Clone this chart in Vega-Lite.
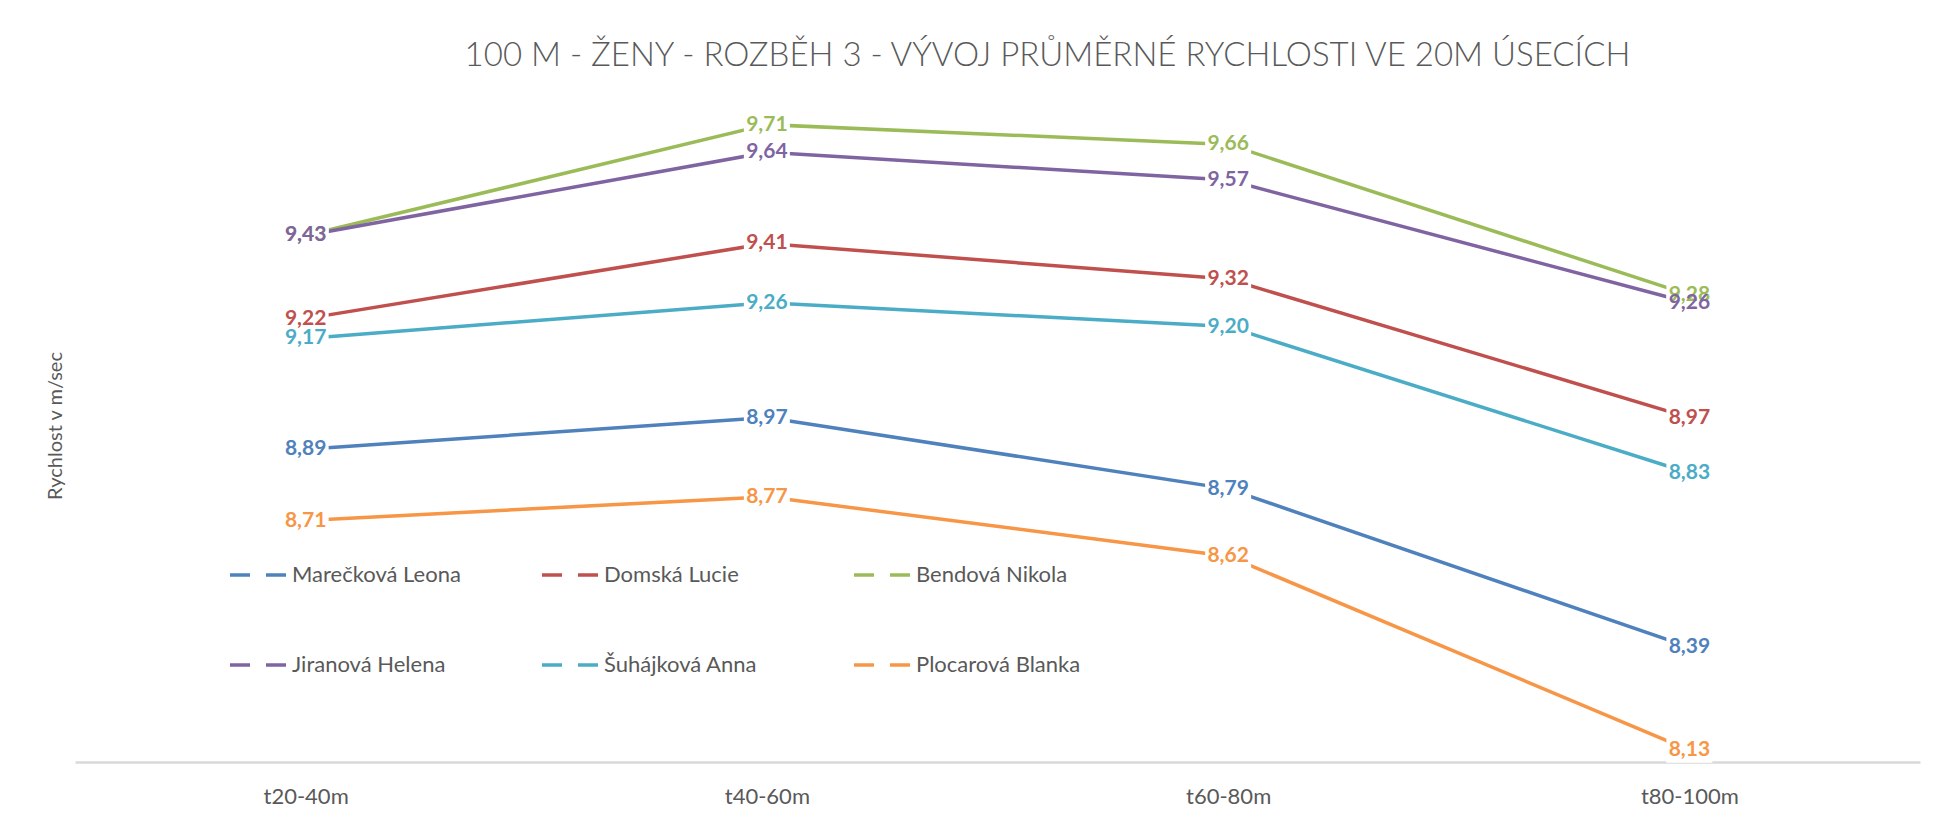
{
  "$schema": "https://vega.github.io/schema/vega-lite/v6.json",
  "width": 1845,
  "height": 673,
  "autosize": {"type": "none"},
  "padding": {"left": 75, "top": 89, "right": 15, "bottom": 57},
  "background": "white",
  "config": {
    "view": {"stroke": null},
    "font": "Lato",
    "locale": {"number": {"decimal": ",", "thousands": " ", "grouping": [3], "currency": ["", " Kč"]}}
  },
  "title": {
    "text": "100 M - ŽENY - ROZBĚH 3 - VÝVOJ PRŮMĚRNÉ RYCHLOSTI VE 20M ÚSECÍCH",
    "font": "Lato",
    "fontSize": 33,
    "fontWeight": 300,
    "color": "#595959",
    "anchor": "middle",
    "dx": 50,
    "dy": 36,
    "offset": 26,
    "baseline": "alphabetic"
  },
  "data": {
    "values": [
      {"zavodnice": "Marečková Leona", "usek": "t20-40m", "rychlost": 8.89},
      {"zavodnice": "Marečková Leona", "usek": "t40-60m", "rychlost": 8.97},
      {"zavodnice": "Marečková Leona", "usek": "t60-80m", "rychlost": 8.79},
      {"zavodnice": "Marečková Leona", "usek": "t80-100m", "rychlost": 8.39},
      {"zavodnice": "Domská Lucie", "usek": "t20-40m", "rychlost": 9.22},
      {"zavodnice": "Domská Lucie", "usek": "t40-60m", "rychlost": 9.41},
      {"zavodnice": "Domská Lucie", "usek": "t60-80m", "rychlost": 9.32},
      {"zavodnice": "Domská Lucie", "usek": "t80-100m", "rychlost": 8.97},
      {"zavodnice": "Bendová Nikola", "usek": "t20-40m", "rychlost": 9.43},
      {"zavodnice": "Bendová Nikola", "usek": "t40-60m", "rychlost": 9.71},
      {"zavodnice": "Bendová Nikola", "usek": "t60-80m", "rychlost": 9.66},
      {"zavodnice": "Bendová Nikola", "usek": "t80-100m", "rychlost": 9.28},
      {"zavodnice": "Jiranová Helena", "usek": "t20-40m", "rychlost": 9.43},
      {"zavodnice": "Jiranová Helena", "usek": "t40-60m", "rychlost": 9.64},
      {"zavodnice": "Jiranová Helena", "usek": "t60-80m", "rychlost": 9.57},
      {"zavodnice": "Jiranová Helena", "usek": "t80-100m", "rychlost": 9.26},
      {"zavodnice": "Šuhájková Anna", "usek": "t20-40m", "rychlost": 9.17},
      {"zavodnice": "Šuhájková Anna", "usek": "t40-60m", "rychlost": 9.26},
      {"zavodnice": "Šuhájková Anna", "usek": "t60-80m", "rychlost": 9.20},
      {"zavodnice": "Šuhájková Anna", "usek": "t80-100m", "rychlost": 8.83},
      {"zavodnice": "Plocarová Blanka", "usek": "t20-40m", "rychlost": 8.71},
      {"zavodnice": "Plocarová Blanka", "usek": "t40-60m", "rychlost": 8.77},
      {"zavodnice": "Plocarová Blanka", "usek": "t60-80m", "rychlost": 8.62},
      {"zavodnice": "Plocarová Blanka", "usek": "t80-100m", "rychlost": 8.13}
    ]
  },
  "encoding": {
    "x": {
      "field": "usek",
      "type": "nominal",
      "sort": ["t20-40m", "t40-60m", "t60-80m", "t80-100m"],
      "scale": {"padding": 0.5},
      "axis": {
        "title": null,
        "labelAngle": 0,
        "labelFont": "Lato",
        "labelFontSize": 22,
        "labelColor": "#595959",
        "ticks": false,
        "tickSize": 0,
        "labelPadding": 24,
        "domainColor": "#d9d9d9",
        "domainWidth": 2.5,
        "grid": false
      }
    },
    "y": {
      "field": "rychlost",
      "type": "quantitative",
      "scale": {"domain": [8.1, 9.8], "zero": false, "nice": false},
      "axis": {
        "title": "Rychlost v m/sec",
        "titleFont": "Lato",
        "titleFontSize": 20,
        "titleFontWeight": "normal",
        "titleColor": "#595959",
        "titlePadding": 10,
        "labels": false,
        "ticks": false,
        "tickSize": 0,
        "domain": false,
        "grid": false
      }
    },
    "color": {
      "field": "zavodnice",
      "type": "nominal",
      "sort": ["Marečková Leona", "Domská Lucie", "Bendová Nikola", "Jiranová Helena", "Šuhájková Anna", "Plocarová Blanka"],
      "scale": {
        "domain": ["Marečková Leona", "Domská Lucie", "Bendová Nikola", "Jiranová Helena", "Šuhájková Anna", "Plocarová Blanka"],
        "range": ["#4F81BD", "#C0504D", "#9BBB59", "#8064A2", "#4BACC6", "#F79646"]
      },
      "legend": {
        "orient": "none",
        "legendX": 153,
        "legendY": 456,
        "direction": "horizontal",
        "columns": 3,
        "gridAlign": "all",
        "columnPadding": 74,
        "rowPadding": 49,
        "symbolType": "stroke",
        "symbolSize": 3136,
        "symbolStrokeWidth": 3.5,
        "symbolDash": [20, 16],
        "labelFont": "Lato",
        "labelFontSize": 22,
        "labelColor": "#595959",
        "labelOffset": 4,
        "labelLimit": 0,
        "padding": 0,
        "title": null
      }
    }
  },
  "layer": [
    {"mark": {"type": "line", "strokeWidth": 3.5}},
    {
      "mark": {"type": "point", "shape": "M-1,-0.55H1V0.55H-1Z", "size": 2116, "filled": true, "opacity": 1, "strokeWidth": 0},
      "encoding": {"color": {"value": "white"}}
    },
    {
      "mark": {"type": "text", "font": "Lato", "fontWeight": "bold", "fontSize": 21, "baseline": "middle", "align": "center"},
      "encoding": {"text": {"field": "rychlost", "type": "quantitative", "format": ".2f"}}
    }
  ]
}
